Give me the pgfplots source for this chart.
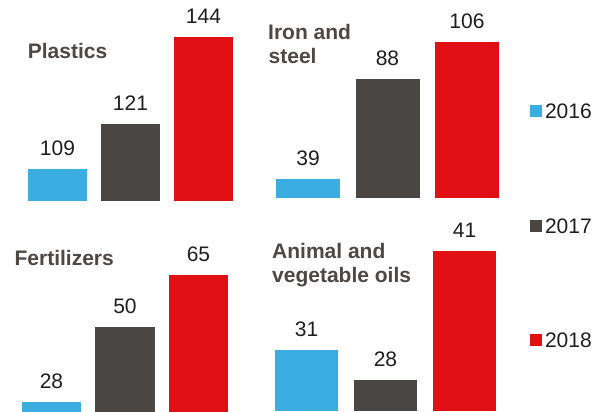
\documentclass[border=0pt]{standalone}
\usepackage{fontspec}
\setmainfont{Liberation Sans}
\usepackage{pgfplots}
\pgfplotsset{compat=1.18}

\definecolor{c16}{HTML}{3BADE1}
\definecolor{c17}{HTML}{4A4644}
\definecolor{c18}{HTML}{E01014}
\definecolor{ttl}{HTML}{4B4846}
\definecolor{txt}{HTML}{1E1E1E}

\newcommand{\bigfont}{\fontsize{21bp}{25bp}\selectfont}

\pgfplotsset{
  panel/.style={
    hide axis, scale only axis, anchor=south west,
    xmin=-0.5, xmax=2.5,
    /pgf/number format/assume math mode=true,
    nodes near coords,
    every node near coord/.append style={anchor=south, yshift=13bp,
      inner sep=0pt, font=\bigfont, text=txt},
  },
  yr/.style={ybar, bar shift=0pt, fill=#1, draw=none, forget plot},
  sq/.style={legend image code/.code={\fill[#1] (0bp,-5.5bp) rectangle (11bp,5.5bp);}},
}

\begin{document}
\begin{tikzpicture}
\useasboundingbox (0,0) rectangle (606bp,412bp);

% Plastics
\begin{axis}[panel, at={(21bp,211bp)}, width=219bp, height=195bp,
  ymin=100.51, ymax=152.22, bar width=59bp]
  \addplot[yr=c16] coordinates {(0,109)};
  \addplot[yr=c17] coordinates {(1,121)};
  \addplot[yr=c18] coordinates {(2,144)};
\end{axis}

% Iron and steel (carries the legend)
\begin{axis}[panel, at={(268.25bp,214.5bp)}, width=238.5bp, height=190bp,
  ymin=29.95, ymax=122.86, bar width=64bp,
  legend cell align=left,
  legend style={at={(1.0975,-0.1474)}, anchor=west, draw=none, fill=none,
    inner sep=0pt, row sep=99.5bp, column sep=3.4bp, font=\bigfont,
    text=txt, nodes={inner sep=0pt, text height=15bp, text depth=0pt}}]
  \addplot[yr=c16] coordinates {(0,39)};
  \addplot[yr=c17] coordinates {(1,88)};
  \addplot[yr=c18] coordinates {(2,106)};
  \addlegendimage{sq=c16}\addlegendentry{2016}
  \addlegendimage{sq=c17}\addlegendentry{2017}
  \addlegendimage{sq=c18}\addlegendentry{2018}
\end{axis}

% Fertilizers
\begin{axis}[panel, at={(14.75bp,0.5bp)}, width=220.5bp, height=195bp,
  ymin=25.23, ymax=82.08, bar width=59bp]
  \addplot[yr=c16] coordinates {(0,28)};
  \addplot[yr=c17] coordinates {(1,50)};
  \addplot[yr=c18] coordinates {(2,65)};
\end{axis}

% Animal and vegetable oils
\begin{axis}[panel, at={(267bp,1bp)}, width=237bp, height=190bp,
  ymin=24.88, ymax=44.01, bar width=63bp]
  \addplot[yr=c16] coordinates {(0,31)};
  \addplot[yr=c17] coordinates {(1,28)};
  \addplot[yr=c18] coordinates {(2,41)};
\end{axis}

% panel titles
\begin{scope}[every node/.style={anchor=base west, inner sep=0pt,
    font=\bigfont\bfseries, text=ttl}]
  \node at (27.7bp,353.7bp) {Plastics};
  \node at (268bp,372.7bp) {Iron and};
  \node at (268.5bp,348.7bp) {steel};
  \node at (14.4bp,146bp) {Fertilizers};
  \node at (272bp,153bp) {Animal and};
  \node at (272bp,129.7bp) {vegetable oils};
\end{scope}
\end{tikzpicture}
\end{document}
